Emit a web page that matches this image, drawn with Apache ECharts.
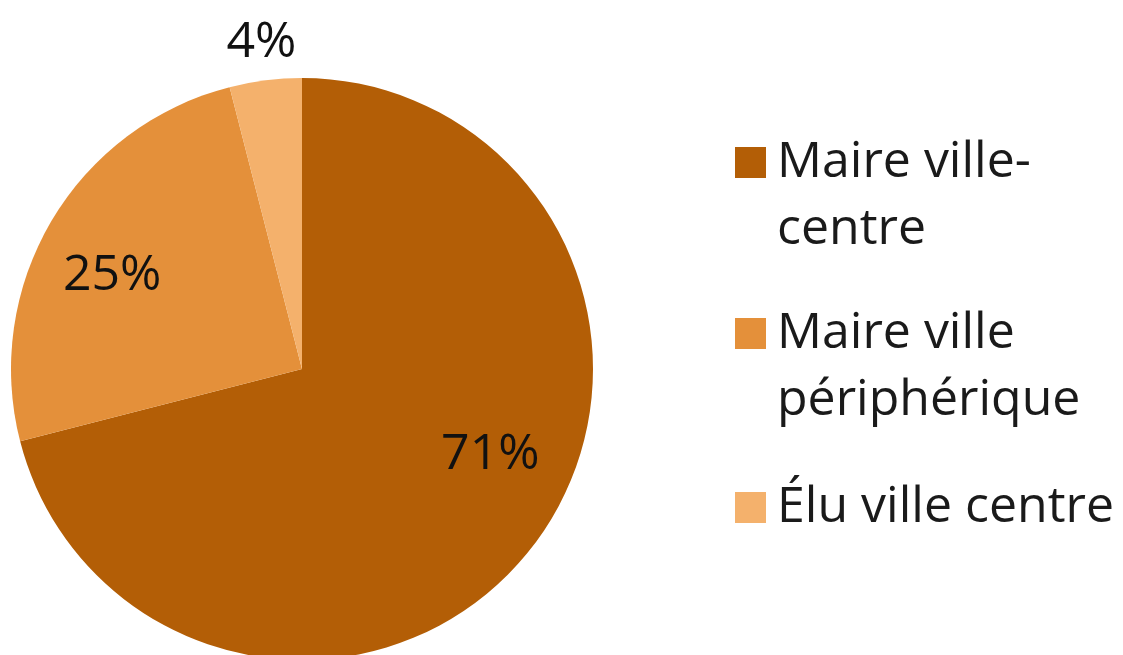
<!DOCTYPE html>
<html>
<head>
<meta charset="utf-8">
<script src="https://cdn.jsdelivr.net/npm/echarts@6/dist/echarts.min.js"></script>
<style>
  html, body { margin: 0; padding: 0; background: #fff; }
  #chart { width: 1123px; height: 655px; }
</style>
</head>
<body>
<div id="chart"></div>
<script>
const categories = ['Maire ville-centre', 'Maire ville périphérique', 'Élu ville centre']
// a blank first line keeps the square level with the first line of text
const legendLabels = [' \nMaire ville-\ncentre', ' \nMaire ville\npériphérique', 'Élu ville centre']
const shares = [71, 25, 4]
const colors = ['#b35e06', '#e4903a', '#f4b16c']

// nudges to put the labels where the original has them
const labelShift = [[71, -5], [-62, -18], [-22, -179]]
const legendTops = [62, 233, 474]

const font = '"Open Sans", "Noto Sans", sans-serif'

const legends = categories.map((name, i) => ({
  data: [name],
  orient: 'vertical',
  left: 735,
  top: legendTops[i],
  padding: 0,
  icon: 'rect',
  itemWidth: 31,
  itemHeight: 31,
  selectedMode: false,
  formatter: () => legendLabels[i],
  textStyle: {
    fontFamily: font,
    fontSize: 50,
    lineHeight: 67,
    color: '#1a1a1a',
    padding: [0, 0, 0, 6]
  }
}))

const option = {
  animation: false,
  color: colors,
  legend: legends,
  series: [
    {
      type: 'pie',
      center: [302, 369],
      radius: 291,
      startAngle: 90,
      clockwise: true,
      avoidLabelOverlap: false,
      data: categories.map((name, i) => ({ name: name, value: shares[i] })),
      itemStyle: { borderWidth: 0 },
      label: {
        show: true,
        position: 'inside',
        formatter: '{c}%',
        fontFamily: font,
        fontSize: 50,
        color: '#111'
      },
      labelLine: { show: false },
      labelLayout: params => ({
        dx: labelShift[params.dataIndex][0],
        dy: labelShift[params.dataIndex][1]
      })
    }
  ]
}

const chart = echarts.init(document.getElementById('chart'))
chart.setOption(option)
</script>
</body>
</html>
